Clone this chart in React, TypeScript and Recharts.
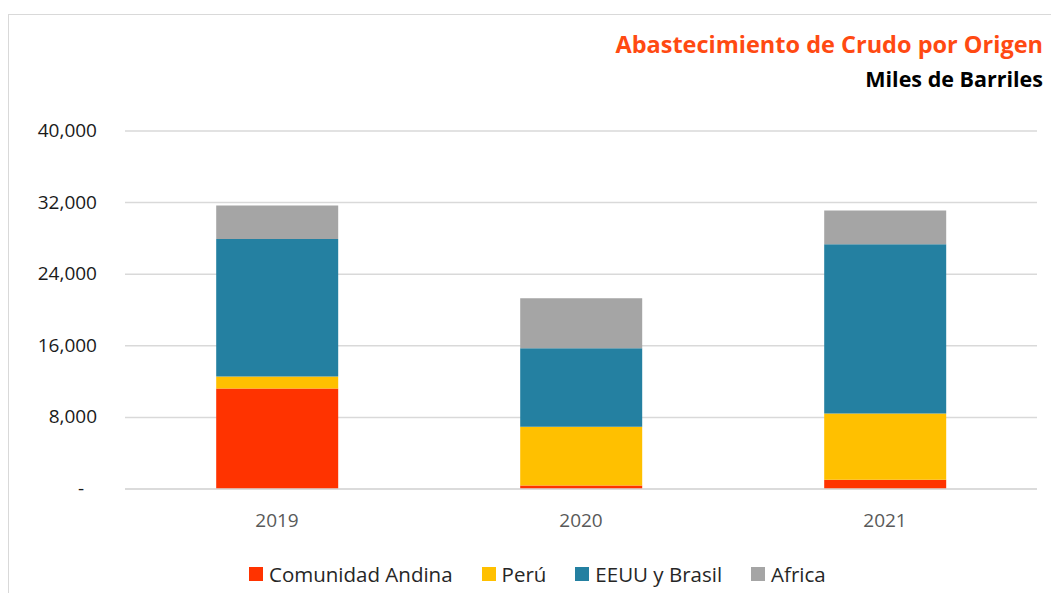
import { Bar, BarChart, CartesianGrid, XAxis, YAxis } from "recharts";

const years = ["2019", "2020", "2021"];
const comunidadAndina = [11225, 400, 1040];
const peru = [1340, 6550, 7400];
const eeuuBrasil = [15364, 8780, 18900];
const africa = [3760, 5580, 3790];
const yTicks = [0, 8000, 16000, 24000, 32000, 40000];

const series = [
  { key: "andina", name: "Comunidad Andina", color: "#FF3300" },
  { key: "peru", name: "Perú", color: "#FFC000" },
  { key: "eeuu", name: "EEUU y Brasil", color: "#2480A1" },
  { key: "africa", name: "Africa", color: "#A5A5A5" },
];

const data = years.map((year, i) => ({
  year,
  andina: comunidadAndina[i],
  peru: peru[i],
  eeuu: eeuuBrasil[i],
  africa: africa[i],
}));

const font = "'Open Sans', 'Noto Sans', sans-serif";

const YTick = (props: any) => {
  const { x, y, payload } = props;
  const v = payload.value as number;
  const label = v === 0 ? "-" : v.toLocaleString("en-US");
  return (
    <text
      x={v === 0 ? x - 33 : x - 20}
      y={y}
      dy={6}
      textAnchor="end"
      fontSize={19}
      fontFamily={font}
      fill="#1a1a1a"
    >
      {label}
    </text>
  );
};

export default function App() {
  return (
    <div style={{ paddingTop: 6 }}>
      <div
        style={{
          position: "relative",
          width: 1042,
          height: 578,
          borderLeft: "1px solid #d9d9d9",
          borderTop: "1px solid #d9d9d9",
          background: "#fff",
          fontFamily: font,
        }}
      >
        <div
          style={{
            position: "absolute",
            right: 8,
            top: 12,
            fontSize: 23.5,
            fontWeight: 700,
            color: "#FF4A12",
            whiteSpace: "nowrap",
            lineHeight: "34px",
          }}
        >
          Abastecimiento de Crudo por Origen
        </div>
        <div
          style={{
            position: "absolute",
            right: 8,
            top: 48,
            fontSize: 21.5,
            fontWeight: 700,
            color: "#000",
            whiteSpace: "nowrap",
            lineHeight: "32px",
          }}
        >
          Miles de Barriles
        </div>
        <BarChart
          width={1042}
          height={560}
          data={data}
          barCategoryGap="30%"
          margin={{ top: 116, right: 14, left: 16, bottom: 46 }}
        >
          <CartesianGrid vertical={false} stroke="#d9d9d9" strokeWidth={1.5} />
          <XAxis
            dataKey="year"
            tickLine={false}
            axisLine={{ stroke: "#d9d9d9", strokeWidth: 1.5 }}
            tick={{ fontSize: 19, fill: "#595959", fontFamily: font, dy: 17 }}
            height={40}
          />
          <YAxis
            domain={[0, 40000]}
            ticks={yTicks}
            tickLine={false}
            axisLine={false}
            width={100}
            tick={<YTick />}
            interval={0}
          />
          {series.map((s) => (
            <Bar
              key={s.key}
              dataKey={s.key}
              name={s.name}
              stackId="a"
              fill={s.color}
              isAnimationActive={false}
            />
          ))}
        </BarChart>
        <div
          style={{
            position: "absolute",
            left: 240,
            top: 544,
            display: "flex",
            alignItems: "center",
            fontSize: 20.5,
            color: "#262626",
            whiteSpace: "nowrap",
            lineHeight: "30px",
          }}
        >
          {series.map((s) => (
            <div
              key={s.key}
              style={{ display: "flex", alignItems: "center", marginRight: 29 }}
            >
              <span
                style={{
                  display: "inline-block",
                  width: 14,
                  height: 14,
                  background: s.color,
                  marginRight: 6,
                }}
              />
              {s.name}
            </div>
          ))}
        </div>
      </div>
    </div>
  );
}
